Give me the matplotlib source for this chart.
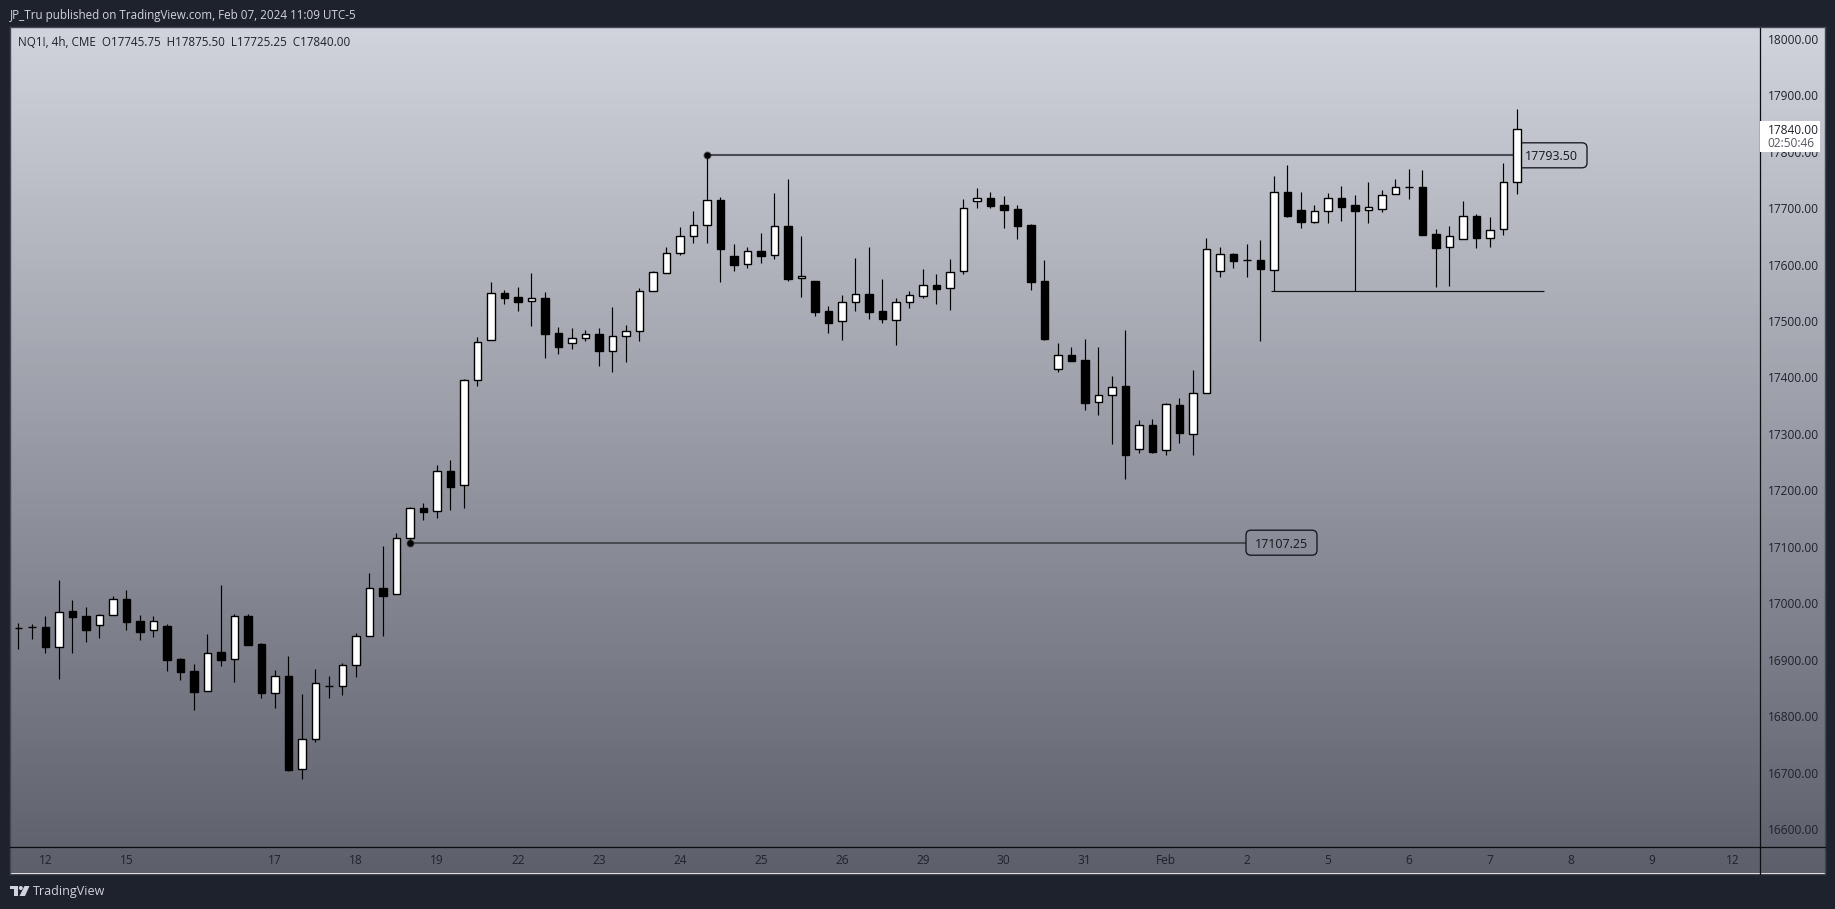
import numpy as np
import matplotlib
matplotlib.use("Agg")
import matplotlib.pyplot as plt
from matplotlib.patches import FancyBboxPatch, Polygon, Rectangle, Circle
from matplotlib.transforms import IdentityTransform

W, H = 1835, 909
FONT = "Open Sans"

highs = [16964.9,16962.5,16977.9,17041.7,17006.2,16993.8,16981.4,17012.7,17023.9,16979.6,
         16977.9,16963.1,16903.5,16892.8,16946.0,17032.8,16981.4,16981.4,16930.0,16882.2,
         16907.0,16839.7,16884.0,16871.6,16894.6,16947.2,17054.0,17101.9,17124.9,17170.4,
         17178.1,17245.4,17254.2,17398.0,17471.6,17569.7,17555.5,17560.8,17585.6,17552.0,
         17490.0,17488.2,17484.6,17488.2,17525.4,17493.5,17558.4,17589.1,17631.7,17667.1,
         17695.4,17793.5,17720.2,17637.0,17631.7,17656.5,17727.3,17752.1,17651.2,17571.4,
         17527.1,17546.6,17612.2,17631.6,17574.9,17541.2,17553.6,17592.6,17583.8,17610.3,
         17716.6,17736.1,17729.0,17721.9,17706.0,17672.3,17608.6,17461.5,17454.4,17468.6,
         17454.4,17403.1,17484.6,17325.1,17326.9,17355.2,17364.1,17413.7,17647.5,17631.6,
         17621.0,17636.9,17644.0,17756.8,17776.8,17729.0,17706.0,17727.2,17739.6,17723.7,
         17746.7,17732.6,17752.0,17769.8,17768.0,17663.5,17668.8,17713.1,17690.0,17684.7,
         17780.4,17875.5]
opens = [16956.0,16958.4,16958.4,16921.8,16986.7,16977.9,16960.8,16978.5,17008.0,16969.0,
         16951.9,16960.2,16901.7,16880.4,16843.8,16914.1,16900.5,16977.9,16928.3,16840.3,
         16871.6,16705.6,16758.8,16853.3,16852.7,16889.9,16941.3,17027.5,17015.7,17114.9,
         17169.2,17162.7,17234.7,17208.8,17394.9,17465.7,17550.2,17543.1,17534.8,17541.3,
         17479.3,17460.4,17469.3,17477.5,17447.4,17472.8,17481.7,17552.5,17584.4,17619.9,
         17650.0,17669.5,17714.9,17615.7,17600.4,17624.6,17616.3,17668.9,17576.2,17571.4,
         17518.3,17499.4,17533.0,17548.3,17518.2,17501.1,17533.0,17543.6,17564.3,17557.8,
         17587.9,17711.9,17718.4,17706.0,17698.9,17670.6,17571.4,17414.3,17440.3,17431.4,
         17355.8,17368.2,17385.4,17272.6,17316.3,17270.8,17351.7,17299.1,17371.8,17587.9,
         17619.2,17607.4,17608.6,17589.6,17729.0,17697.1,17675.9,17694.2,17718.4,17706.0,
         17695.9,17697.7,17724.3,17737.3,17737.9,17654.6,17630.4,17644.6,17686.5,17646.3,
         17662.3,17745.75]
closes = [16956.0,16958.4,16921.8,16984.4,16976.1,16953.1,16979.0,17007.4,16967.2,16949.5,
          16968.4,16899.9,16878.7,16843.2,16911.7,16899.9,16977.3,16926.5,16841.5,16871.0,
          16705.1,16759.4,16858.6,16853.3,16890.5,16941.9,17026.9,17013.3,17115.5,17168.6,
          17162.1,17234.2,17206.4,17395.5,17462.8,17549.6,17541.3,17534.2,17540.7,17477.5,
          17454.5,17469.9,17477.0,17447.4,17473.4,17482.3,17553.1,17586.8,17620.4,17650.6,
          17670.0,17714.3,17628.1,17599.8,17624.0,17615.7,17668.3,17575.0,17579.7,17516.5,
          17497.0,17533.6,17547.8,17516.4,17504.0,17533.6,17546.0,17563.7,17557.2,17586.7,
          17700.1,17717.8,17704.2,17697.1,17668.8,17569.6,17468.6,17439.7,17429.6,17355.2,
          17368.8,17383.0,17263.1,17315.7,17268.4,17352.9,17302.1,17372.4,17627.5,17618.6,
          17606.8,17607.4,17592.6,17728.4,17686.5,17675.9,17694.8,17717.8,17702.4,17695.3,
          17701.8,17723.1,17737.3,17737.3,17652.8,17629.8,17650.5,17685.9,17647.5,17661.1,
          17746.1,17840.0]
lows = [16919.4,16937.1,16912.3,16866.3,16912.3,16931.8,16938.9,16978.5,16953.1,16935.4,
        16940.7,16880.4,16864.5,16811.4,16843.8,16889.3,16861.0,16926.5,16832.6,16814.9,
        16703.3,16689.1,16754.7,16832.6,16837.9,16869.8,16941.3,16942.4,17015.7,17107.25,
        17147.9,17151.5,17165.7,17169.2,17385.4,17465.7,17530.7,17518.3,17491.7,17435.0,
        17442.1,17451.0,17465.2,17420.9,17410.2,17427.9,17465.2,17552.5,17584.4,17617.5,
        17638.8,17638.8,17569.7,17589.1,17594.5,17603.3,17610.4,17571.4,17543.1,17509.4,
        17479.3,17466.9,17518.3,17504.0,17497.0,17458.0,17523.5,17541.2,17530.6,17520.0,
        17583.8,17700.7,17700.7,17665.3,17645.8,17555.4,17466.8,17410.2,17429.6,17342.8,
        17334.0,17282.6,17220.6,17266.7,17266.7,17263.1,17284.4,17263.1,17371.8,17578.5,
        17594.4,17578.5,17465.1,17553.0,17684.7,17665.2,17674.1,17674.1,17677.6,17553.0,
        17674.1,17693.6,17724.3,17716.6,17652.8,17560.7,17562.5,17644.6,17629.8,17631.6,
        17652.8,17725.25]

date_tick_pos = [2, 8, 19, 25, 31, 37, 43, 49, 55, 61, 67, 73, 79, 85, 91, 97, 103, 109, 115, 121, 127]
date_tick_labels = ["12", "15", "17", "18", "19", "22", "23", "24", "25", "26", "29", "30", "31",
                    "Feb", "2", "5", "6", "7", "8", "9", "12"]
price_ticks = [16600, 16700, 16800, 16900, 17000, 17100, 17200, 17300, 17400, 17500, 17600,
               17700, 17800, 17900, 18000]

resistance_level = 17793.50
support_level = 17107.25
sweep_level = 17553.0

BG = "#1e222d"
TXT = "#1f222b"
PANEL_L, PANEL_R, PANEL_T, PANEL_B = 10.0, 1825, 27.5, 873.5
PLOT_R, PLOT_B = 1759.5, 846.5


def box(l, t, r, b):
    return [l / W, 1 - b / H, (r - l) / W, (b - t) / H]


fig = plt.figure(figsize=(W / 100, H / 100), dpi=100, facecolor=BG)

# gradient panel
bg = fig.add_axes(box(PANEL_L, PANEL_T, PANEL_R, PANEL_B), zorder=0)
top_c = np.array([0xd1, 0xd4, 0xdc]) / 255
bot_c = np.array([0x5d, 0x60, 0x6b]) / 255
t = np.linspace(0, 1, 256)[:, None, None]
bg.imshow(top_c[None, None, :] * (1 - t) + bot_c[None, None, :] * t, aspect="auto", extent=(0, 1, 0, 1))
bg.set_xticks([]); bg.set_yticks([])
for s in bg.spines.values():
    s.set_color("#454853"); s.set_linewidth(1.0)

# main plot
ax = fig.add_axes(box(PANEL_L, PANEL_T, PLOT_R, PLOT_B), zorder=1)
ax.patch.set_alpha(0)
px_per_bar = 13.5
ax.set_xlim((PANEL_L - 18.3) / px_per_bar, (PLOT_R - 18.3) / px_per_bar)
ax.set_ylim(17900 - (PLOT_B - 95.2) * 1.7715, 17900 + (95.2 - PANEL_T) * 1.7715)

idx = np.arange(len(opens))
o, c, h, l = map(np.array, (opens, closes, highs, lows))
up = c >= o
LW = 0.85
ax.vlines(idx, l, h, color="black", lw=LW, zorder=3)
ax.bar(idx, np.abs(c - o), bottom=np.minimum(o, c), width=0.56,
       color=np.where(up, "white", "black"), edgecolor="black", linewidth=LW + 0.15, zorder=4)

# drawings
ax.hlines(resistance_level, 51, 111, color="#4a4b53", lw=1.5, zorder=2)
ax.hlines(support_level, 29, 90.94, color="#4a4b53", lw=1.5, zorder=2)
ax.hlines(sweep_level, 92.8, 113.05, color="#111111", lw=0.85, zorder=2)
ax.scatter([51, 29], [resistance_level, support_level], s=22, color="black",
           edgecolors=(0.1, 0.1, 0.1, 0.45), linewidths=1.2, zorder=5)


def label_box(center_bar, price, text, w=71, h_=25):
    cx, cy = ax.transData.transform((center_bar, price))
    ax.add_patch(FancyBboxPatch((cx - w / 2, cy - h_ / 2), w, h_,
                                boxstyle="round,pad=0,rounding_size=5", transform=IdentityTransform(),
                                fc="none", ec="#15171c", lw=0.95, zorder=3, clip_on=False))
    ax.text(center_bar, price, text, ha="center", va="center_baseline", fontsize=8.9, family=FONT,
            color="#15171c", zorder=6)


label_box(113.57, resistance_level, "17793.50")
label_box(93.57, support_level, "17107.25")

# axes and ticks
ax.yaxis.tick_right()
ax.set_yticks(price_ticks)
ax.set_yticklabels([f"{v:.2f}" for v in price_ticks], family=FONT, fontsize=8.6, color=TXT)
ax.tick_params(axis="y", length=0, pad=6)
ax.set_xticks(date_tick_pos)
ax.set_xticklabels(date_tick_labels, family=FONT, fontsize=8.6, color=TXT)
ax.tick_params(axis="x", length=0, pad=5.5)
for name in ("top", "left"):
    ax.spines[name].set_visible(False)
ax.spines["bottom"].set_color("#0c0d10"); ax.spines["bottom"].set_linewidth(0.9)
ax.spines["right"].set_color("#0c0d10"); ax.spines["right"].set_linewidth(0.9)

# overlay in pixel space
ov = fig.add_axes([0, 0, 1, 1], zorder=5)
ov.set_xlim(0, W); ov.set_ylim(H, 0); ov.axis("off")
ov.plot([1759.5, 1759.5], [846.5, 873.5], color="#0c0d10", lw=0.9)
ov.plot([1759.5, 1825], [846.5, 846.5], color="#0c0d10", lw=0.9)
ov.add_patch(Rectangle((1760, 121), 60, 31, fc="white", ec="none"))
ov.text(1767.5, 130, f"{closes[-1]:.2f}", fontsize=8.6, family=FONT, color=TXT, va="center")
ov.text(1767.5, 143.5, "02:50:46", fontsize=8.6, family=FONT, color="#555862", va="center")

ov.text(18, 42.5, "NQ1!, 4h, CME  O17745.75  H17875.50  L17725.25  C17840.00", fontsize=8.35,
        family=FONT, color=TXT, va="center")
ov.text(10, 15, "JP_Tru published on TradingView.com, Feb 07, 2024 11:09 UTC-5", fontsize=8.4,
        family=FONT, color="#d1d4dc", va="center")

# TradingView logo and name
LOGO = "#d1d4dc"
ov.add_patch(Rectangle((10, 886), 7.5, 3.2, fc=LOGO, ec="none"))
ov.add_patch(Rectangle((13.5, 886), 4, 10, fc=LOGO, ec="none"))
ov.add_patch(Circle((20.8, 888), 2, fc=LOGO, ec="none"))
ov.add_patch(Polygon([(24.5, 886), (29.5, 886), (25, 896), (19.5, 896)], closed=True, fc=LOGO, ec="none"))
ov.text(33, 891, "TradingView", fontsize=9.0, family=FONT, color=LOGO, va="center")

fig.savefig("out.png", dpi=100, facecolor=BG)
